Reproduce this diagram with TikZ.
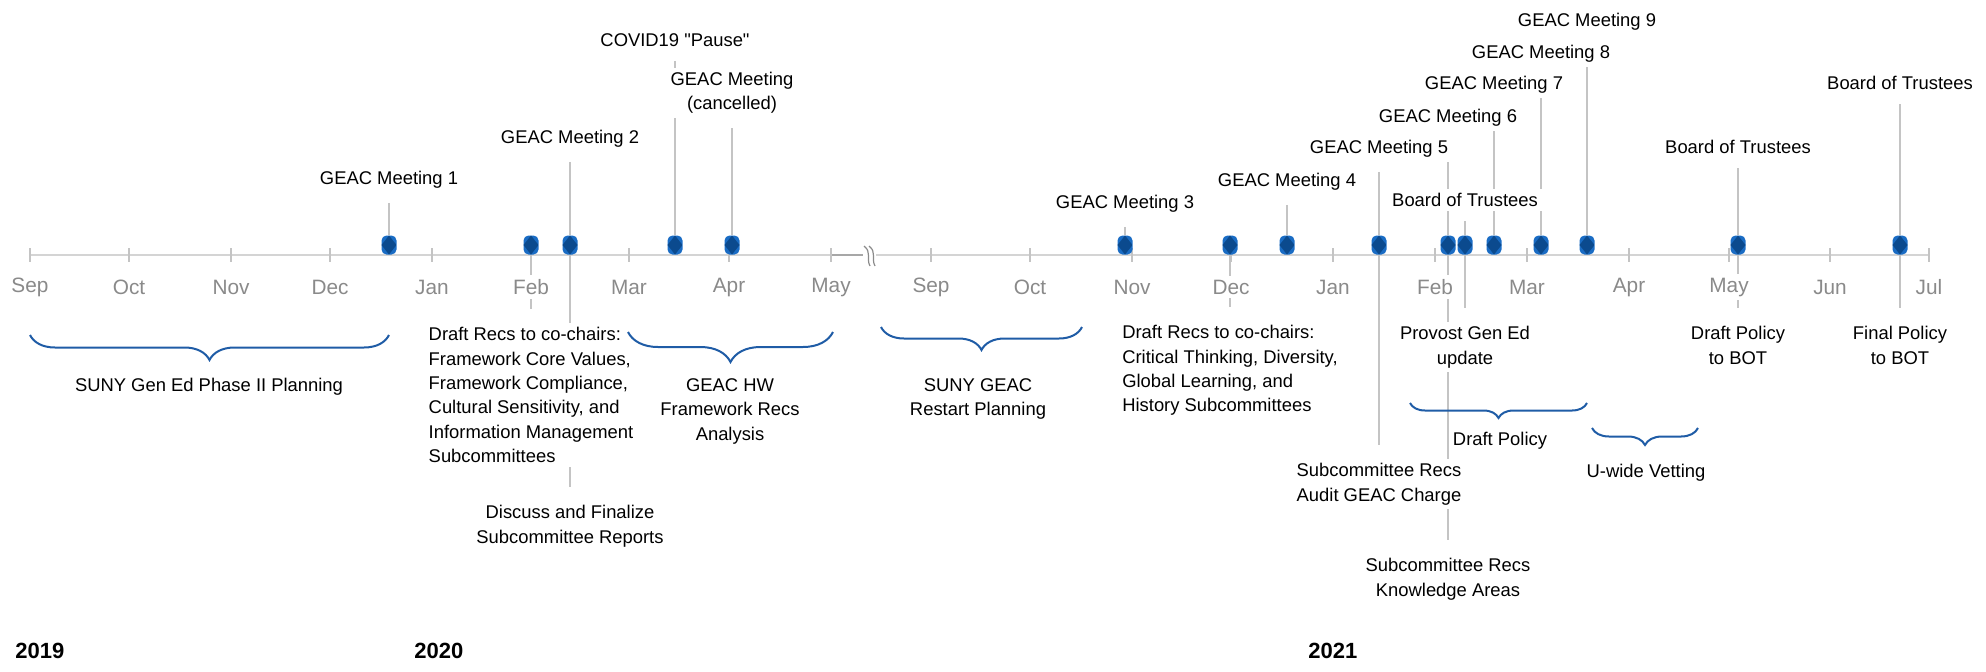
\documentclass[tikz,border=0pt]{standalone}
\usepackage{fontspec}
\setmainfont{Liberation Sans}
\newfontfamily\qfont{Liberation Sans}
\usetikzlibrary{decorations.pathreplacing}

\definecolor{axisgray}{HTML}{D4D4D4}
\definecolor{stemgray}{HTML}{C4C4C4}
\definecolor{monthgray}{HTML}{8A8A8A}
\definecolor{dotblue}{HTML}{1A6CC4}
\definecolor{dotnavy}{HTML}{0B4A8E}
\definecolor{bracecol}{HTML}{1F5CA6}

\pgfdeclarelayer{back}
\pgfsetlayers{back,main}

\tikzset{
  lbl/.style={fill=white,inner sep=2pt,font=\fontsize{9.2}{12.2}\selectfont},
  mon/.style={fill=white,inner sep=2pt,text=monthgray,font=\fontsize{10.4}{12.5}\selectfont},
  yr/.style={anchor=base west,inner sep=0pt,font=\fontsize{11}{13}\selectfont\bfseries},
  ev/.style={rectangle,rounded corners=2.5pt,minimum width=7.5pt,minimum height=9.5pt,inner sep=0pt,fill=dotblue,
    path picture={\fill[dotnavy,sharp corners] (path picture bounding box.north) -- (path picture bounding box.east)
      -- (path picture bounding box.south) -- (path picture bounding box.west) -- cycle;}},
  stem/.style={draw=stemgray,line width=0.6pt},
  stemup/.style={stem,shorten <=5pt},
  stemdn/.style={stem,shorten >=7pt},
  brc/.style={draw=bracecol,line width=1pt,decorate,decoration={brace,mirror,amplitude=#1}}
}

\begin{document}
\begin{tikzpicture}[x=0.5pt,y=-0.5pt]
\useasboundingbox (0,0) rectangle (1986,671);

% milestones
\foreach \x [count=\i] in {389,531,570,675,732,1125,1230,1287,1379,1448,1465,1494,1541,1587,1738,1900}
  \node at (\x,245) [ev] (d\i) {};

% months and years
\foreach \x/\m [count=\i] in {30/Sep,129/Oct,231/Nov,330/Dec,432/Jan,531/Feb,629/Mar,729/Apr,831/May,
    931/Sep,1030/Oct,1132/Nov,1231/Dec,1333/Jan,1435/Feb,1527/Mar,1629/Apr,1729/May,1830/Jun,1929/Jul}
  \node at (\x,287) [mon] (m\i) {\m};
\node at (15,658) [yr] (y1) {2019};
\node at (414,658) [yr] (y2) {2020};
\node at (1308,658) [yr] (y3) {2021};

% above the line
\node at (389,180) [lbl] (t1) {GEAC Meeting 1};
\node at (570,139) [lbl] (t2) {GEAC Meeting 2};
\node at (675,40) [lbl] (t3) {\qfont COVID19 "Pause"};
\node at (732,118) [lbl,anchor=south,align=center] (t4) {GEAC Meeting\\(cancelled)};
\node at (1125,204) [lbl] (t5) {GEAC Meeting 3};
\node at (1287,182) [lbl] (t6) {GEAC Meeting 4};
\node at (1379,149) [lbl] (t7) {GEAC Meeting 5};
\node at (1448,118) [lbl] (t8) {GEAC Meeting 6};
\node at (1465,200) [lbl] (t9) {Board of Trustees};
\node at (1494,85) [lbl] (t10) {GEAC Meeting 7};
\node at (1541,54) [lbl] (t11) {GEAC Meeting 8};
\node at (1587,22) [lbl] (t12) {GEAC Meeting 9};
\node at (1738,147) [lbl] (t13) {Board of Trustees};
\node at (1900,83) [lbl] (t14) {Board of Trustees};

% below the line
\node at (531,323) [lbl,anchor=north,align=left] (b1) {Draft Recs to co-chairs:\\Framework Core Values,\\Framework Compliance,\\Cultural Sensitivity, and\\Information Management\\Subcommittees};
\node at (570,501) [lbl,anchor=north,align=center] (b2) {Discuss and Finalize\\Subcommittee Reports};
\node at (1230,321) [lbl,anchor=north,align=left] (b3) {Draft Recs to co-chairs:\\Critical Thinking, Diversity,\\Global Learning, and\\History Subcommittees};
\node at (1379,459) [lbl,anchor=north,align=center] (b4) {Subcommittee Recs\\Audit GEAC Charge};
\node at (1465,322) [lbl,anchor=north,align=center] (b5) {Provost Gen Ed\\update};
\node at (1448,554) [lbl,anchor=north,align=center] (b6) {Subcommittee Recs\\Knowledge Areas};
\node at (1738,322) [lbl,anchor=north,align=center] (b7) {Draft Policy\\to BOT};
\node at (1900,322) [lbl,anchor=north,align=center] (b8) {Final Policy\\to BOT};

% phases
\draw[brc=12.5pt] (30,335) -- (389,335);
\draw[brc=15pt] (628,332) -- (833,332);
\draw[brc=11.5pt] (881,327) -- (1082,327);
\draw[brc=7.5pt] (1410,403) -- (1587,403);
\draw[brc=8.5pt] (1592,428) -- (1698,428);
\node at (209,387) [lbl] (p1) {SUNY Gen Ed Phase II Planning};
\node at (730,374) [lbl,anchor=north,align=center] (p2) {GEAC HW\\Framework Recs\\Analysis};
\node at (978,374) [lbl,anchor=north,align=center] (p3) {SUNY GEAC\\Restart Planning};
\node at (1500,441) [lbl] (p4) {Draft Policy};
\node at (1646,473) [lbl] (p5) {U-wide Vetting};

\begin{pgfonlayer}{back}
  \draw[axisgray,line width=1pt] (30,255) -- (863,255) (876,255) -- (1929,255);
  \draw[monthgray!75,line width=1pt] (831,255) -- (863,255);
  \foreach \x in {30,129,231,330,432,531,629,729,831,931,1030,1132,1231,1333,1435,1527,1629,1729,1830,1929}
    \draw[stemgray,line width=0.7pt] (\x,248) -- (\x,262);
  \draw[monthgray,line width=0.6pt] (864,246) .. controls (872,252) and (866,259) .. (870,266)
    (869,246) .. controls (877,252) and (871,259) .. (875,266);
  % stems
  \draw[stemup] (t1) -- (d1);
  \draw[stemup] (t2) -- (d3);
  \draw[stemup] (t3) -- (d4);
  \draw[stemup] (t4) -- (d5);
  \draw[stemup] (t5) -- (d6);
  \draw[stemup] (t6) -- (d8);
  \draw[stemup] (t7) -- (d9);
  \draw[stemup] (t8) -- (d10);
  \draw[stemup] (t9) -- (d11);
  \draw[stemup] (t10) -- (d12);
  \draw[stemup] (t11) -- (d13);
  \draw[stemup] (t12) -- (d14);
  \draw[stemup] (t13) -- (d15);
  \draw[stemup] (t14) -- (d16);
  \draw[stemdn] (d2) -- (b1);
  \draw[stemdn] (d3) -- (b2);
  \draw[stemdn] (d7) -- (b3);
  \draw[stemdn] (d9) -- (b4);
  \draw[stemdn] (d11) -- (b5);
  \draw[stemdn] (d10) -- (b6);
  \draw[stemdn] (d15) -- (b7);
  \draw[stemdn] (d16) -- (b8);
\end{pgfonlayer}
\end{tikzpicture}
\end{document}
